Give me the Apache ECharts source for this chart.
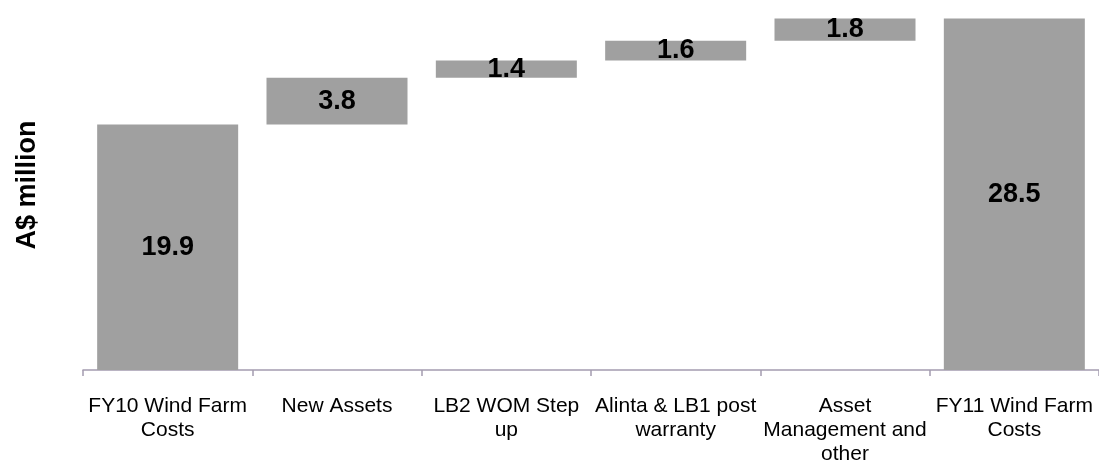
<!DOCTYPE html>
<html>
<head>
<meta charset="utf-8">
<script src="https://cdn.jsdelivr.net/npm/echarts@6/dist/echarts.min.js"></script>
<style>
  html, body { margin: 0; padding: 0; background: #ffffff; }
  #chart { width: 1099px; height: 466px; }
</style>
</head>
<body>
<div id="chart"></div>
<script>
// Data
const categories = [
  "FY10 Wind Farm\nCosts",
  "New Assets",
  "LB2 WOM Step\nup",
  "Alinta & LB1 post\nwarranty",
  "Asset\nManagement and\nother",
  "FY11 Wind Farm\nCosts"
];
const values = [19.9, 3.8, 1.4, 1.6, 1.8, 28.5];
const isTotal = [true, false, false, false, false, true];
const axisName = "A$ million";

// invisible base for the floating steps
const base = [];
let running = 0;
for (let i = 0; i < values.length; i++) {
  if (isTotal[i]) { base.push(0); running = values[i]; }
  else { base.push(+running.toFixed(2)); running += values[i]; }
}

const chart = echarts.init(document.getElementById('chart'), null, { renderer: 'canvas' });
const FONT = "'Liberation Sans', Arial, sans-serif";
chart.setOption({
  animation: false,
  backgroundColor: '#ffffff',
  grid: { left: 83, width: 1018, top: 0, bottom: 92, containLabel: false },
  xAxis: {
    type: 'category',
    data: categories,
    axisLine: { show: true, lineStyle: { color: '#a49cb0', width: 1.5 } },
    axisTick: { show: true, alignWithLabel: false, length: 6, lineStyle: { color: '#a49cb0', width: 1.5 } },
    axisLabel: {
      interval: 0, margin: 24, color: '#000000',
      fontFamily: FONT, fontSize: 21, lineHeight: 24
    },
    splitLine: { show: false }
  },
  yAxis: {
    type: 'value',
    min: 0, max: 30,
    name: axisName,
    nameLocation: 'middle',
    nameRotate: 90,
    nameGap: 42,
    nameTextStyle: { fontFamily: FONT, fontSize: 27, fontWeight: 'bold', color: '#000000' },
    axisLine: { show: false },
    axisTick: { show: false },
    axisLabel: { show: false },
    splitLine: { show: false }
  },
  series: [
    {
      type: 'bar',
      stack: 'wf',
      data: base,
      barWidth: 141,
      itemStyle: { color: 'transparent' },
      emphasis: { disabled: true },
      silent: true
    },
    {
      type: 'bar',
      stack: 'wf',
      data: values,
      barWidth: 141,
      itemStyle: { color: '#a0a0a0' },
      label: {
        show: true,
        position: 'inside',
        color: '#000000',
        fontFamily: FONT,
        fontSize: 27,
        fontWeight: 'bold',
        formatter: p => p.value.toFixed(1)
      }
    }
  ]
});
</script>
</body>
</html>
